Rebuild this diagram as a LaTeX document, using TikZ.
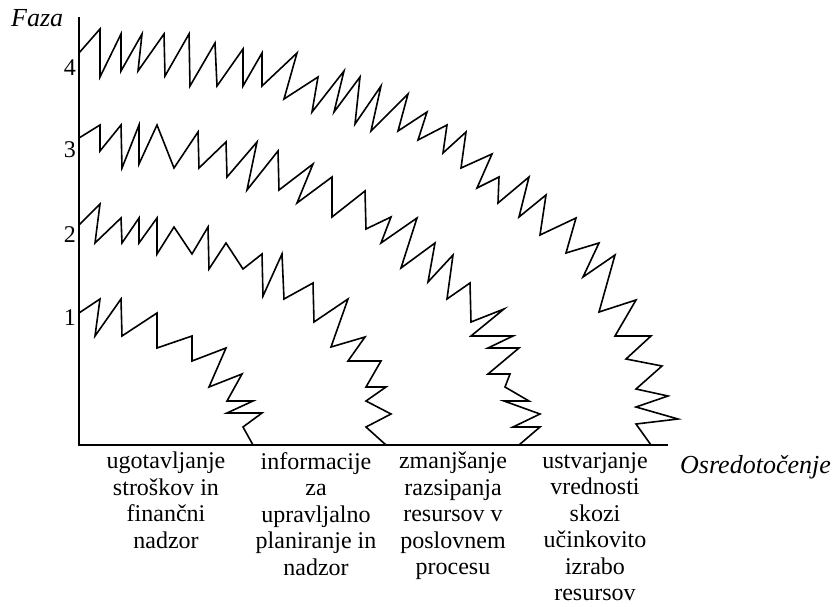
\documentclass[tikz,border=0pt]{standalone}
\usepackage{fontspec}
\setmainfont{Liberation Serif}
\usepackage{tikz}
\usetikzlibrary{positioning}

\begin{document}
\begin{tikzpicture}[
  x=1pt, y=-1pt,
  axisline/.style={line width=1.6pt, draw=black},
  zigline/.style={line width=1.6pt, draw=black, line join=miter},
  phaselabel/.style={font=\fontsize{24}{26}\selectfont, inner sep=0pt, anchor=base east},
  axislabel/.style={font=\fontsize{26}{28}\selectfont\itshape, inner sep=0pt, anchor=base west},
  focuslabel/.style={font=\fontsize{24}{26.5}\selectfont, align=center, inner sep=0pt,
                     anchor=north, execute at begin node={\rule{0pt}{17pt}}}
]
  \useasboundingbox (0,0) rectangle (836,607);

  % Axes
  \coordinate (origin) at (79,445);
  \coordinate (ytop) at (79,17);
  \coordinate (xend) at (668,445);
  \draw[axisline] (ytop) -- (origin) -- (xend);

  \node[axislabel] (faza) at (11,27) {Faza};
  \node[axislabel] (osred) at (680,473) {Osredotočenje};

  % Phase numbers
  \foreach \n/\yb in {4/76,3/158,2/242,1/325}{
    \node[phaselabel] (ph\n) at (76,\yb) {\n};
  }

  % Zigzag fronts, one per phase
  \coordinate (z4) at (79,53);
  \coordinate (z3) at (79,138);
  \coordinate (z2) at (79,225);
  \coordinate (z1) at (79,313);

  \draw[zigline] (z4) -- (100,29) -- (100,77) -- (121,34) -- (121,71)
    -- (142,34) -- (138,71) -- (164,34) -- (165,76) -- (189,34) -- (190,86)
    -- (215,43) -- (217,86) -- (243,49) -- (243,86) -- (262,53) -- (262,86)
    -- (297,53) -- (284,99) -- (318,77) -- (312,112) -- (344,71) -- (334,112)
    -- (360,77) -- (355,124) -- (381,86) -- (371,131) -- (408,94) -- (398,131)
    -- (427,112) -- (418,140) -- (447,125) -- (443,153) -- (466,132) -- (461,168)
    -- (492,154) -- (477,188) -- (499,177) -- (498,203) -- (529,177) -- (519,217)
    -- (546,195) -- (540,235) -- (576,218) -- (566,253) -- (599,243) -- (583,277)
    -- (615,255) -- (599,312) -- (636,300) -- (615,336) -- (651,336) -- (626,359)
    -- (662,366) -- (636,389) -- (668,396) -- (636,407) -- (678,419) -- (636,424)
    -- (651,445);

  \draw[zigline] (z3) -- (100,125) -- (100,151) -- (121,125) -- (122,168)
    -- (139,125) -- (139,164) -- (157,125) -- (174,168) -- (198,132) -- (199,168)
    -- (226,142) -- (227,177) -- (257,142) -- (247,190) -- (278,151) -- (279,190)
    -- (313,164) -- (297,203) -- (332,177) -- (332,217) -- (365,191) -- (366,229)
    -- (391,217) -- (381,243) -- (417,218) -- (401,268) -- (435,243) -- (428,282)
    -- (453,255) -- (447,299) -- (470,283) -- (471,322) -- (504,309) -- (471,336)
    -- (513,336) -- (488,348) -- (519,348) -- (488,374) -- (510,374) -- (505,387)
    -- (529,401) -- (504,401) -- (540,414) -- (513,427) -- (540,427) -- (519,445);

  \draw[zigline] (z2) -- (100,204) -- (95,243) -- (121,218) -- (122,243)
    -- (139,218) -- (139,243) -- (157,218) -- (157,254) -- (174,227) -- (192,254)
    -- (208,227) -- (209,269) -- (226,243) -- (243,269) -- (262,254) -- (263,296)
    -- (282,254) -- (284,299) -- (313,283) -- (314,322) -- (348,299) -- (331,347)
    -- (365,337) -- (348,361) -- (381,361) -- (366,387) -- (386,387) -- (366,401)
    -- (391,414) -- (366,427) -- (386,445);

  \draw[zigline] (z1) -- (100,299) -- (95,336) -- (121,299) -- (122,336)
    -- (157,313) -- (157,348) -- (192,336) -- (192,361) -- (226,348) -- (209,387)
    -- (242,374) -- (227,401) -- (253,401) -- (227,413) -- (262,413) -- (243,427)
    -- (253,445);

  % Focus labels under the axis
  \node[focuslabel] (f1) at (166,452) {ugotavljanje\\stroškov in\\finančni\\nadzor};
  \node[focuslabel] (f2) at (316,452) {informacije\\za\\upravljalno\\planiranje in\\nadzor};
  \node[focuslabel] (f3) at (453,452) {zmanjšanje\\razsipanja\\resursov v\\poslovnem\\procesu};
  \node[focuslabel] (f4) at (595,452) {ustvarjanje\\vrednosti\\skozi\\učinkovito\\izrabo\\resursov};
\end{tikzpicture}
\end{document}
